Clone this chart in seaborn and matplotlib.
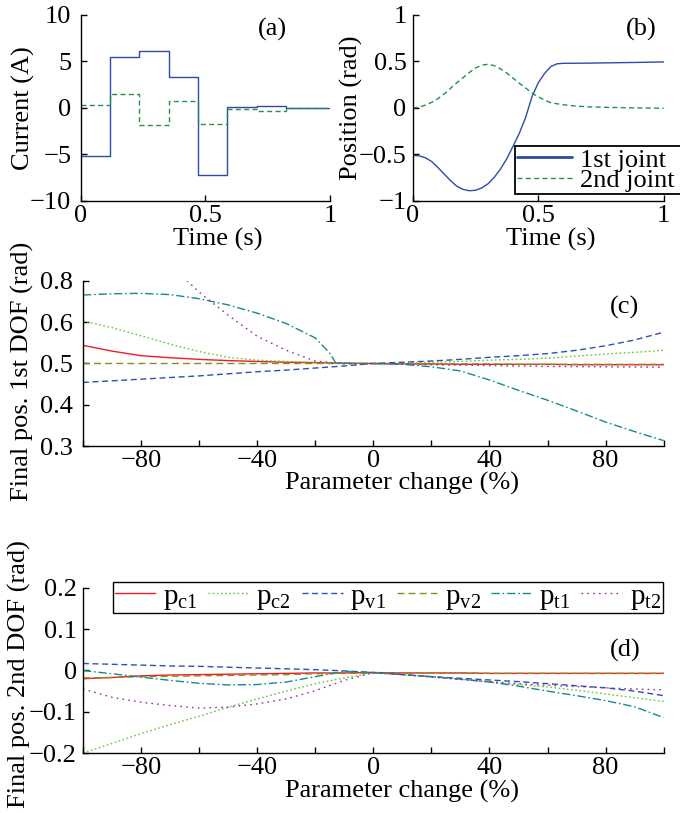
import numpy as np
import pandas as pd
import matplotlib
matplotlib.use("Agg")
import matplotlib.pyplot as plt
from matplotlib.lines import Line2D
import seaborn as sns

# ---------------- data ----------------
# (a) motor currents (piecewise constant)
t_steps = [0.0, 0.118, 0.235, 0.353, 0.471, 0.588, 0.706, 0.824, 1.0]
current_1 = [-5.15, 5.45, 6.1, 3.3, -7.2, 0.07, 0.18, -0.05, -0.05]
current_2 = [0.35, 1.5, -1.85, 0.7, -1.7, -0.07, -0.29, -0.05, -0.05]

# (b) joint positions
t_pos = [0.0, 0.025, 0.05, 0.075, 0.1, 0.125, 0.15, 0.175, 0.2, 0.225, 0.25,
         0.275, 0.3, 0.325, 0.35, 0.375, 0.4, 0.425, 0.45, 0.475, 0.5, 0.525,
         0.55, 0.575, 0.6, 0.65, 0.7, 0.8, 0.9, 1.0]
pos_1 = [-0.51, -0.515, -0.535, -0.575, -0.64, -0.71, -0.78, -0.84, -0.875, -0.89,
         -0.885, -0.86, -0.815, -0.745, -0.655, -0.545, -0.41, -0.27, -0.10, 0.12,
         0.27, 0.37, 0.445, 0.475, 0.48, 0.481, 0.482, 0.486, 0.49, 0.495]
pos_2 = [0.0, 0.01, 0.03, 0.06, 0.10, 0.15, 0.21, 0.27, 0.325, 0.38, 0.43,
         0.46, 0.47, 0.455, 0.42, 0.375, 0.32, 0.265, 0.215, 0.16, 0.12, 0.085,
         0.057, 0.045, 0.035, 0.02, 0.012, 0.005, 0.0, -0.003]
legend_b = ["1st joint", "2nd joint"]

# (c) / (d) parameter sensitivity
param = [-100, -90, -80, -70, -60, -50, -40, -30, -20, -10, 0,
         10, 20, 30, 40, 50, 60, 70, 80, 90, 100]
series_names = [r"$\mathrm{p}_{\mathrm{c1}}$", r"$\mathrm{p}_{\mathrm{c2}}$",
                r"$\mathrm{p}_{\mathrm{v1}}$", r"$\mathrm{p}_{\mathrm{v2}}$",
                r"$\mathrm{p}_{\mathrm{t1}}$", r"$\mathrm{p}_{\mathrm{t2}}$"]

c_pc1 = [0.544, 0.530, 0.519, 0.514, 0.510, 0.507, 0.505, 0.503, 0.502, 0.501, 0.500,
         0.499, 0.499, 0.498, 0.498, 0.498, 0.498, 0.497, 0.497, 0.497, 0.497]
c_pc2 = [0.603, 0.587, 0.567, 0.547, 0.529, 0.515, 0.508, 0.505, 0.503, 0.501, 0.500,
         0.501, 0.503, 0.505, 0.508, 0.510, 0.513, 0.518, 0.523, 0.527, 0.532]
c_pv1 = [0.454, 0.458, 0.462, 0.466, 0.470, 0.475, 0.480, 0.484, 0.489, 0.494, 0.500,
         0.503, 0.506, 0.510, 0.515, 0.519, 0.524, 0.532, 0.543, 0.557, 0.576]
c_pv2 = [0.500, 0.500, 0.500, 0.500, 0.500, 0.500, 0.500, 0.500, 0.500, 0.500, 0.500,
         0.499, 0.499, 0.499, 0.499, 0.498, 0.498, 0.498, 0.498, 0.498, 0.498]
c_pt1_x = [-100, -90, -80, -70, -60, -50, -40, -30, -20, -15, -13, -5, 0,
           10, 20, 30, 40, 50, 60, 70, 80, 90, 100]
c_pt1 = [0.666, 0.669, 0.670, 0.667, 0.657, 0.642, 0.622, 0.597, 0.562, 0.525, 0.502,
         0.499, 0.500, 0.498, 0.492, 0.482, 0.460, 0.435, 0.411, 0.385, 0.358, 0.335, 0.313]
c_pt2_x = [-70, -60, -50, -40, -30, -20, -10, 0, 20, 40, 60, 80, 100]
c_pt2 = [0.740, 0.673, 0.617, 0.566, 0.532, 0.506, 0.499, 0.500,
         0.497, 0.495, 0.493, 0.492, 0.491]
yticks_c = [0.3, 0.4, 0.5, 0.6, 0.7]
ytick_labels_c = ["0.3", "0.4", "0.5", "0.6", "0.8"]

d_pc1 = [-0.020, -0.017, -0.013, -0.011, -0.010, -0.009, -0.008, -0.007, -0.006, -0.006, -0.005,
         -0.006, -0.006, -0.006, -0.007, -0.007, -0.007, -0.007, -0.007, -0.007, -0.007]
d_pc2 = [-0.200, -0.177, -0.153, -0.131, -0.111, -0.089, -0.069, -0.050, -0.032, -0.018, -0.006,
         -0.010, -0.015, -0.021, -0.028, -0.034, -0.040, -0.048, -0.057, -0.066, -0.075]
d_pv1 = [0.017, 0.015, 0.013, 0.011, 0.010, 0.008, 0.006, 0.004, 0.002, -0.001, -0.005,
         -0.010, -0.015, -0.019, -0.023, -0.027, -0.032, -0.037, -0.042, -0.050, -0.061]
d_pv2 = [-0.018, -0.017, -0.015, -0.014, -0.013, -0.012, -0.011, -0.010, -0.008, -0.007, -0.006,
         -0.006, -0.006, -0.006, -0.007, -0.007, -0.007, -0.007, -0.007, -0.007, -0.007]
d_pt1 = [0.000, -0.008, -0.016, -0.024, -0.031, -0.035, -0.034, -0.028, -0.015, -0.002, -0.005,
         -0.010, -0.015, -0.021, -0.028, -0.038, -0.050, -0.061, -0.073, -0.088, -0.114]
d_pt2 = [-0.045, -0.065, -0.077, -0.085, -0.091, -0.089, -0.081, -0.069, -0.049, -0.024, -0.005,
         -0.010, -0.016, -0.022, -0.027, -0.032, -0.036, -0.039, -0.042, -0.045, -0.047]
yticks_d = [-0.2, -0.1, 0.0, 0.1, 0.2]
ytick_labels_d = ["\u22120.2", "\u22120.1", "0", "0.1", "0.2"]

xticks_p = [-100, -80, -60, -40, -20, 0, 20, 40, 60, 80, 100]
xtick_labels_p = ["", "\u221280", "", "\u221240", "", "0", "", "40", "", "80", ""]

# ---------------- style ----------------
sns.set_style("ticks")
plt.rcParams["font.family"] = ["Liberation Serif", "DejaVu Serif"]
plt.rcParams["mathtext.fontset"] = "custom"
plt.rcParams["mathtext.rm"] = "Liberation Serif"
plt.rcParams["mathtext.it"] = "Liberation Serif:italic"
plt.rcParams["font.size"] = 19
plt.rcParams["text.color"] = "black"
plt.rcParams["axes.labelcolor"] = "black"

FS = 19
BLUE_A = "#2c4ca6"
GREEN_A = "#1f9447"
COL = ["#ee1c25", "#62c83a", "#2f4fb5", "#8f8a1c", "#168a8c", "#9a2fa6"]
LS = ["-", (0, (1.2, 1.8)), (0, (4.3, 2.6)), (0, (5.0, 3.0)),
      (0, (6.0, 2.0, 1.2, 2.0)), (0, (1.2, 3.0))]

fig = plt.figure(figsize=(6.8, 8.13), dpi=100)
ax_a = fig.add_axes([0.119, 0.7528, 0.366, 0.2288])
ax_b = fig.add_axes([0.607, 0.7528, 0.369, 0.2288])
ax_c = fig.add_axes([0.122, 0.4514, 0.854, 0.203])
ax_d = fig.add_axes([0.122, 0.0738, 0.854, 0.203])


def style(ax):
    for s in ["top", "right"]:
        ax.spines[s].set_visible(False)
    for s in ["left", "bottom"]:
        ax.spines[s].set_linewidth(1.0)
        ax.spines[s].set_color("black")
    ax.tick_params(direction="in", length=4, width=1, labelsize=FS,
                   colors="black")
    ax.tick_params(axis="y", pad=4.5)
    ax.tick_params(axis="x", pad=3)


# ---- (a)
sns.lineplot(x=t_steps, y=current_1, ax=ax_a, color=BLUE_A, lw=1.0,
             drawstyle="steps-post", legend=False)
sns.lineplot(x=t_steps, y=current_2, ax=ax_a, color=GREEN_A, lw=1.0,
             drawstyle="steps-post", linestyle=(0, (3.6, 2.4)), legend=False)
ax_a.set_xlim(0, 1)
ax_a.set_ylim(-10, 10)
ax_a.set_xticks([0, 0.5, 1])
ax_a.set_xticklabels(["0", "0.5", "1"])
ax_a.set_yticks([-10, -5, 0, 5, 10])
ax_a.set_yticklabels(["\u221210", "\u22125", "0", "5", "10"])
ax_a.set_xlabel("Time (s)", fontsize=FS)
ax_a.set_ylabel("Current (A)", fontsize=FS)
style(ax_a)
ax_a.tick_params(axis="y", pad=7)
ax_a.xaxis.set_label_coords(0.55, -0.145)
ax_a.yaxis.set_label_coords(-0.185, 0.5)
ax_a.text(0.77, 0.92, "(a)", transform=ax_a.transAxes, fontsize=FS,
          ha="center", va="center")

# ---- (b)
sns.lineplot(x=t_pos, y=pos_1, ax=ax_b, color=BLUE_A, lw=1.0, legend=False)
sns.lineplot(x=t_pos, y=pos_2, ax=ax_b, color=GREEN_A, lw=1.0,
             linestyle=(0, (3.6, 2.4)), legend=False)
ax_b.set_xlim(0, 1)
ax_b.set_ylim(-1, 1)
ax_b.set_xticks([0, 0.5, 1])
ax_b.set_xticklabels(["0", "0.5", "1"])
ax_b.set_yticks([-1, -0.5, 0, 0.5, 1])
ax_b.set_yticklabels(["\u22121", "\u22120.5", "0", "0.5", "1"])
ax_b.set_xlabel("Time (s)", fontsize=FS)
ax_b.set_ylabel("Position (rad)", fontsize=FS)
style(ax_b)
ax_b.xaxis.set_label_coords(0.55, -0.145)
ax_b.yaxis.set_label_coords(-0.2, 0.5)
ax_b.text(0.912, 0.92, "(b)", transform=ax_b.transAxes, fontsize=FS,
          ha="center", va="center")
hb = [Line2D([], [], color=BLUE_A, lw=2.0),
      Line2D([], [], color=GREEN_A, lw=1.0, linestyle=(0, (3.6, 2.4)))]
leg_b = ax_b.legend(hb, legend_b, loc="lower left",
                    bbox_to_anchor=(0.406, 0.035, 0.9, 0.28), mode="expand",
                    borderaxespad=0, fontsize=FS, frameon=True, fancybox=False,
                    framealpha=1, edgecolor="black", handlelength=2.1,
                    handletextpad=0.3, labelspacing=-0.1, borderpad=0.08)
leg_b.get_frame().set_linewidth(1.3)

# ---- (c)
c_series = [(param, c_pc1), (param, c_pc2), (param, c_pv1), (param, c_pv2),
            (c_pt1_x, c_pt1), (c_pt2_x, c_pt2)]
for (xs, ys), col, ls in zip(c_series, COL, LS):
    sns.lineplot(x=xs, y=ys, ax=ax_c, color=col, lw=1.0, linestyle=ls,
                 legend=False)
ax_c.set_xlim(-100, 100)
ax_c.set_ylim(0.3, 0.7)
ax_c.set_xticks(xticks_p)
ax_c.set_xticklabels(xtick_labels_p)
ax_c.set_yticks(yticks_c)
ax_c.set_yticklabels(ytick_labels_c)
ax_c.set_xlabel("Parameter change (%)", fontsize=FS)
ax_c.set_ylabel("Final pos. 1st DOF (rad)", fontsize=FS)
style(ax_c)
ax_c.tick_params(axis="y", pad=7)
ax_c.xaxis.set_label_coords(0.55, -0.155)
ax_c.yaxis.set_label_coords(-0.085, 0.45)
ax_c.text(0.933, 0.842, "(c)", transform=ax_c.transAxes, fontsize=FS,
          ha="center", va="center")

# ---- (d)
d_series = [d_pc1, d_pc2, d_pv1, d_pv2, d_pt1, d_pt2]
for ys, col, ls in zip(d_series, COL, LS):
    sns.lineplot(x=param, y=ys, ax=ax_d, color=col, lw=1.0, linestyle=ls,
                 legend=False)
ax_d.set_xlim(-100, 100)
ax_d.set_ylim(-0.2, 0.2)
ax_d.set_xticks(xticks_p)
ax_d.set_xticklabels(xtick_labels_p)
ax_d.set_yticks(yticks_d)
ax_d.set_yticklabels(ytick_labels_d)
ax_d.set_xlabel("Parameter change (%)", fontsize=FS)
ax_d.set_ylabel("Final pos. 2nd DOF (rad)", fontsize=FS)
style(ax_d)
ax_d.xaxis.set_label_coords(0.55, -0.16)
ax_d.yaxis.set_label_coords(-0.09, 0.48)
ax_d.text(0.933, 0.624, "(d)", transform=ax_d.transAxes, fontsize=FS,
          ha="center", va="center")
hd = [Line2D([], [], color=c, lw=1.0, linestyle=l) for c, l in zip(COL, LS)]
leg_d = ax_d.legend(hd, series_names, loc="lower left", ncol=6, mode="expand",
                    bbox_to_anchor=(0.052, 0.848, 0.946, 0.188), borderaxespad=0,
                    fontsize=21, frameon=True, fancybox=False, framealpha=1,
                    edgecolor="black", handlelength=1.4, handletextpad=0.25,
                    columnspacing=0.5, borderpad=0.05)
leg_d.get_frame().set_linewidth(1.0)

fig.savefig("out.png", dpi=100)
